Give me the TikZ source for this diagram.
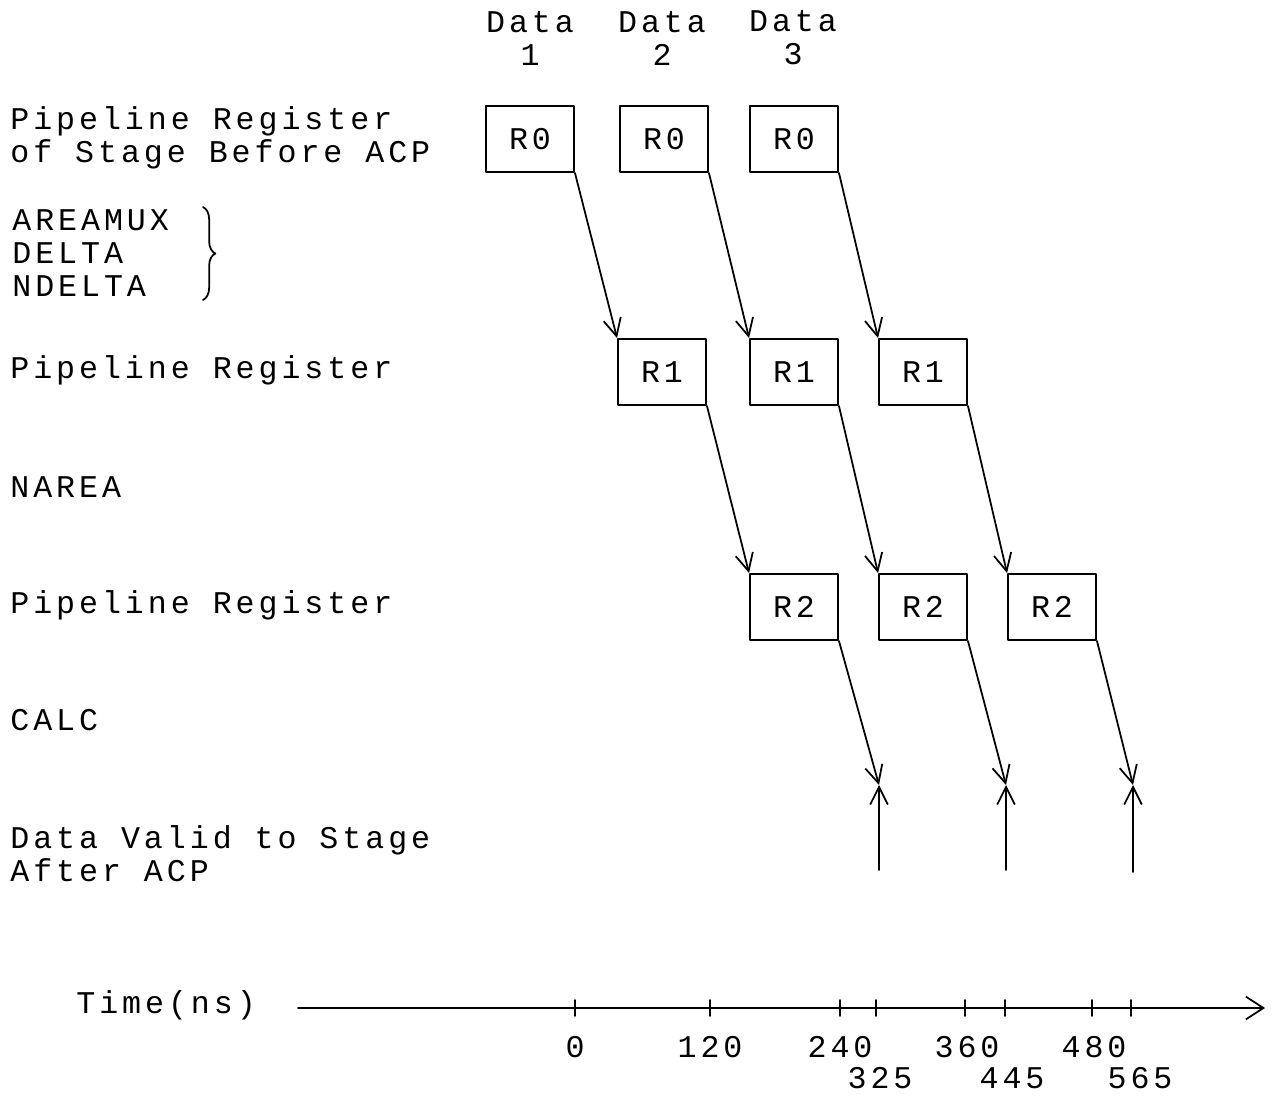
\documentclass[tikz,border=0pt]{standalone}
\usepackage{fontspec}
\newfontfamily\typer[LetterSpace=12.5]{Liberation Mono}
\usetikzlibrary{arrows.meta,decorations.pathreplacing}

\tikzset{
  txt/.style={font=\typer\fontsize{18}{18.8}\selectfont, inner sep=0pt},
  lbl/.style={txt, anchor=west, align=left},
  reg/.style={txt, draw, line width=1.1pt, minimum width=1.76cm, minimum height=1.32cm},
  flow/.style={-{Straight Barb[length=10pt,width=10pt]}, line width=1pt},
}

\begin{document}
\begin{tikzpicture}[x=0.02cm, y=-0.02cm, line cap=round, line join=round]
  \useasboundingbox (0,0) rectangle (1275,1099);

  % Row labels on the left
  \node[lbl] (l0) at (10,138) {Pipeline Register\\of Stage Before ACP};
  \node[lbl] (lmux) at (12,253) {AREAMUX\\DELTA\\NDELTA};
  \node[lbl] (l1) at (10,370) {Pipeline Register};
  \node[lbl] (lnarea) at (10,487) {NAREA};
  \node[lbl] (l2) at (10,605) {Pipeline Register};
  \node[lbl] (lcalc) at (10,720) {CALC};
  \node[lbl] (lvalid) at (10,854) {Data Valid to Stage\\After ACP};
  \node[lbl] (ltime) at (76,1005) {Time(ns)};

  % Brace grouping the first logic stage
  \draw[line width=1pt, decorate, decoration={brace, amplitude=7pt}]
    (203,207) -- (203,300);

  % Column headings
  \node[txt, align=center] (d1) at (530,38) {Data\\1};
  \node[txt, align=center] (d2) at (662,38) {Data\\2};
  \node[txt, align=center] (d3) at (793,38) {Data\\3};

  % Pipeline registers
  \foreach \i/\x in {1/530, 2/664, 3/794}
    \node[reg] (ra\i) at (\x,139) {R0};
  \foreach \i/\x in {1/662, 2/794, 3/923}
    \node[reg] (rb\i) at (\x,372) {R1};
  \foreach \i/\x in {1/794, 2/923, 3/1052}
    \node[reg] (rc\i) at (\x,607) {R2};

  % Points where data becomes valid
  \coordinate (v1) at (879,785);
  \coordinate (v2) at (1006,785);
  \coordinate (v3) at (1133,785);
  \coordinate (s1) at (879,870);
  \coordinate (s2) at (1006,870);
  \coordinate (s3) at (1133,872);

  % Data flow through the stages
  \foreach \i in {1,2,3} {
    \draw[flow] (ra\i.south east) -- (rb\i.north west);
    \draw[flow] (rb\i.south east) -- (rc\i.north west);
    \draw[flow] (rc\i.south east) -- (v\i);
    \draw[flow] (s\i) -- (v\i);
  }

  % Time axis
  \coordinate (t0) at (298,1008);
  \coordinate (t1) at (1265,1008);
  \draw[-{Straight Barb[length=10pt,width=13pt]}, line width=1pt] (t0) -- (t1);
  \foreach \x in {575,710,840,876,965,1005,1092,1131}
    \draw[line width=1pt] (\x,1000) -- (\x,1016);

  % Tick labels
  \node[txt] (n0) at (575,1047) {0};
  \node[txt] (n120) at (710,1047) {120};
  \node[txt] (n240) at (840,1047) {240};
  \node[txt] (n360) at (967,1047) {360};
  \node[txt] (n480) at (1094,1047) {480};
  \node[txt] (n325) at (880,1078) {325};
  \node[txt] (n445) at (1012,1078) {445};
  \node[txt] (n565) at (1140,1078) {565};
\end{tikzpicture}
\end{document}
